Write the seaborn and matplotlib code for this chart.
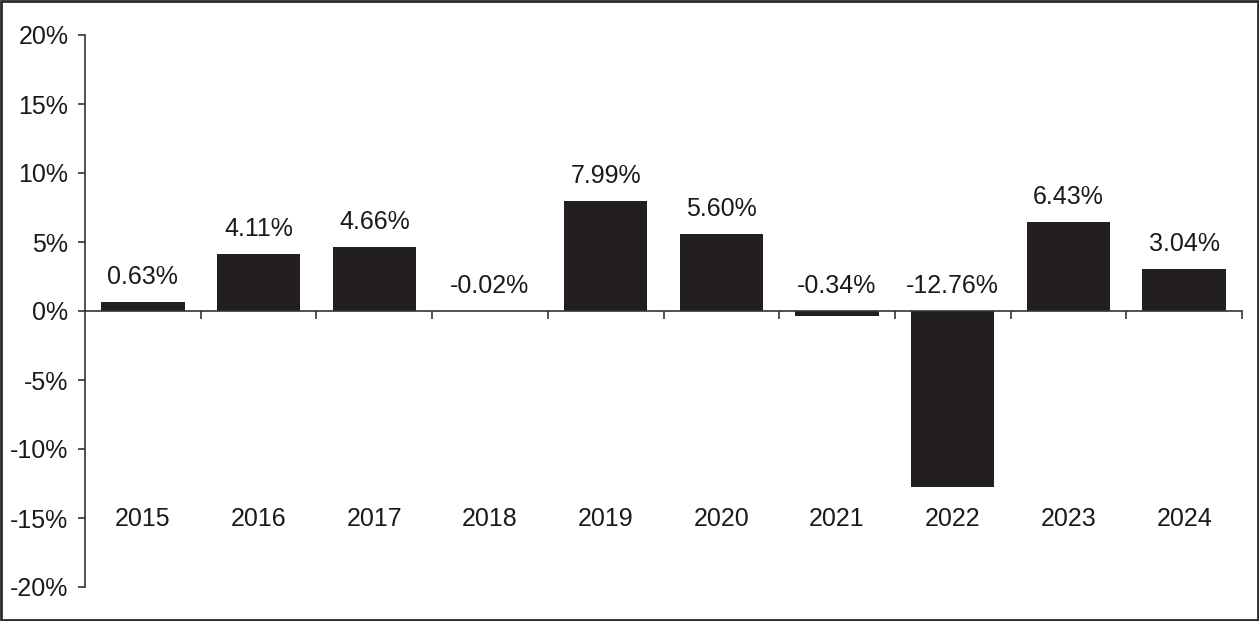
import matplotlib
matplotlib.use("Agg")
import matplotlib.pyplot as plt
from matplotlib import font_manager as fm
import seaborn as sns
import pandas as pd
import numpy as np

years = ["2015", "2016", "2017", "2018", "2019", "2020", "2021", "2022", "2023", "2024"]
returns = [0.63, 4.11, 4.66, -0.02, 7.99, 5.60, -0.34, -12.76, 6.43, 3.04]
value_labels = ["0.63%", "4.11%", "4.66%", "-0.02%", "7.99%", "5.60%", "-0.34%", "-12.76%", "6.43%", "3.04%"]
y_ticks = [20, 15, 10, 5, 0, -5, -10, -15, -20]

sns.set_theme(style="white")
plt.rcParams["font.family"] = ["Liberation Sans", "DejaVu Sans"]
plt.rcParams["font.stretch"] = "normal"

FS = 18
txt_col = "#1a1a1a"

df = pd.DataFrame({"year": years, "ret": returns})

fig = plt.figure(figsize=(12.59, 6.21), dpi=100)
ax = fig.add_axes([85 / 1259, 1 - 587 / 621, (1242 - 85) / 1259, (587 - 35) / 621])

bar_color = "#231f20"
sns.barplot(data=df, x="year", y="ret", color=bar_color, width=0.72,
            saturation=1, ax=ax, edgecolor="none")

ax.set_xlim(-0.5, 9.5)
ax.set_ylim(-20, 20)
ax.set_xlabel("")
ax.set_ylabel("")

line_col = "#333333"
for s in ["top", "right"]:
    ax.spines[s].set_visible(False)
ax.spines["left"].set_color(line_col)
ax.spines["left"].set_linewidth(1.2)
ax.spines["bottom"].set_position(("data", 0))
ax.spines["bottom"].set_color(line_col)
ax.spines["bottom"].set_linewidth(1.2)

ax.set_yticks(y_ticks)
ax.set_yticklabels([f"{t}%" for t in y_ticks], fontsize=FS, color=txt_col)
ax.tick_params(axis="y", direction="out", length=5, width=1.2, color=line_col,
               pad=7, left=True)

ax.set_xticks(np.arange(0.5, 10, 1.0))
ax.set_xticklabels([])
ax.tick_params(axis="x", direction="out", length=6, width=1.2, color=line_col,
               bottom=True)

for i, (y, v) in enumerate(zip(years, returns)):
    ax.text(i, -15.1, y, ha="center", va="center", fontsize=FS, color=txt_col)
    top = max(v, 0)
    ax.annotate(value_labels[i], (i, top), xytext=(0, 13), textcoords="offset pixels",
                ha="center", va="bottom", fontsize=FS, color=txt_col)

ax.grid(False)

fig.patches.append(matplotlib.patches.Rectangle((0.0008, 0.0016), 0.9984, 0.9968,
                   transform=fig.transFigure, fill=False, edgecolor="#2b2b2b",
                   linewidth=2))

fig.savefig("out.png", dpi=100, facecolor="white")
